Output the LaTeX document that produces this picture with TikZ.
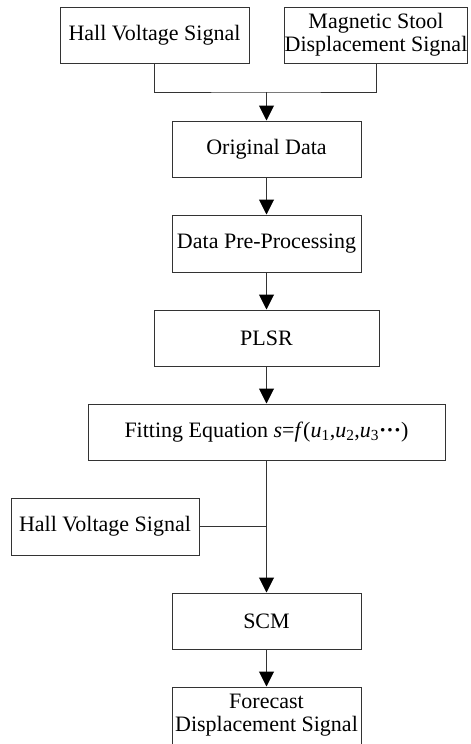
\documentclass[tikz,border=0pt]{standalone}
\usepackage{fontspec}
\setmainfont{Liberation Serif}
\usetikzlibrary{arrows.meta}
\begin{document}
\begin{tikzpicture}[x=1pt,y=-1pt,
  box/.style={draw=black!80,line width=1pt,inner sep=0pt,align=center,
    font=\fontsize{22}{23}\selectfont,minimum height=56pt},
  conn/.style={draw=black!80,line width=1pt},
  arr/.style={conn,-{Triangle[length=15pt,width=15pt,color=black]}}]
\useasboundingbox (0,0) rectangle (471,744);
\node[box,minimum width=189pt] (b1) at (154.5,35) {Hall Voltage Signal};
\node[box,minimum width=182pt] (b2) at (376,35) {Magnetic Stool\\Displacement Signal};
\coordinate (j) at (266.5,92);
\node[box,minimum width=189pt] (orig) at (266.5,149) {Original Data};
\node[box,minimum width=189pt,minimum height=57pt] (pre) at (266.5,243.5) {Data Pre-Processing};
\node[box,minimum width=225pt] (plsr) at (266.5,338) {PLSR};
\node[box,minimum width=357pt] (fit) at (266.5,432) {Fitting Equation \textit{s}=\textit{f}(\textit{u}\textsubscript{1},\textit{u}\textsubscript{2},\textit{u}\textsubscript{3}\textbf{···})};
\node[box,minimum width=188pt,minimum height=57pt] (hall2) at (105,526.5) {Hall Voltage Signal};
\node[box,minimum width=189pt] (scm) at (266.5,621) {SCM};
\node[box,minimum width=189pt,minimum height=57pt] (fore) at (266.5,715.5) {Forecast\\Displacement Signal};
\draw[conn] (b1.south) |- (j) -| (b2.south);
\draw[arr] (j) -- (orig.north);
\draw[arr] (orig) -- (pre);
\draw[arr] (pre) -- (plsr);
\draw[arr] (plsr) -- (fit);
\draw[conn] (hall2.east) -- (hall2.east -| fit.south);
\draw[arr] (fit) -- (scm);
\draw[arr] (scm) -- (fore);
\end{tikzpicture}
\end{document}
